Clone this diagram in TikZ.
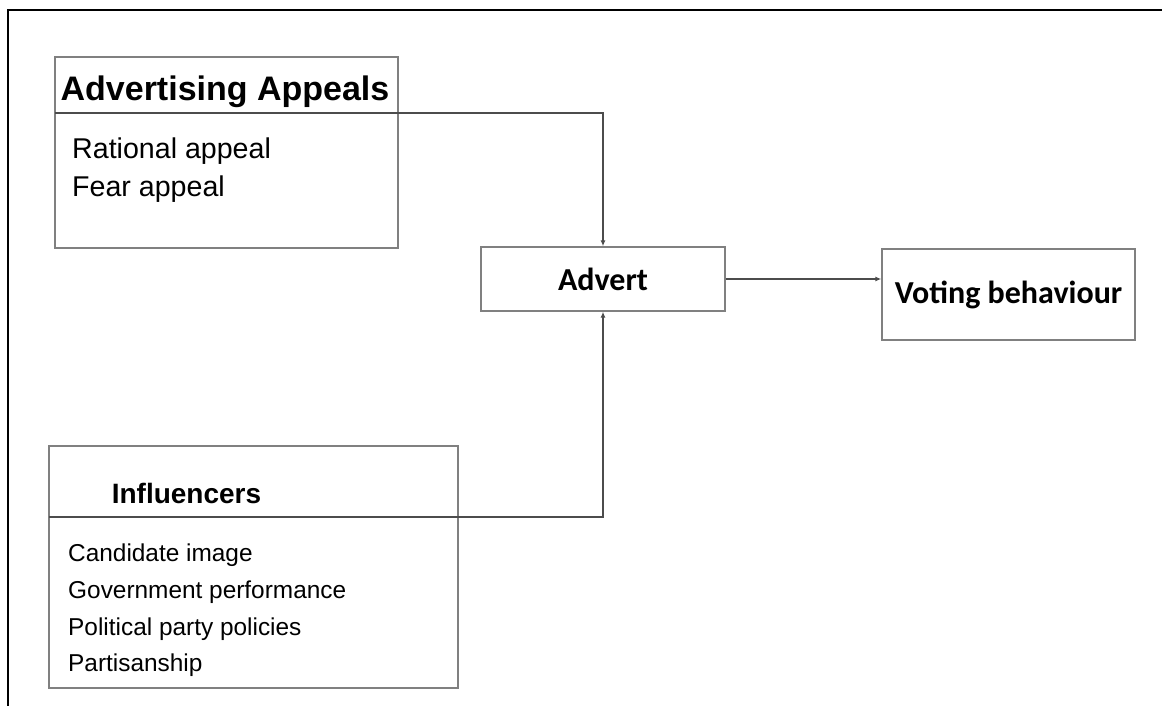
\documentclass[tikz,border=0pt]{standalone}
\usepackage{fontspec}
\setmainfont{Liberation Sans}
\newfontfamily\carlito{Carlito}
\usetikzlibrary{positioning, arrows.meta}

\begin{document}
\begin{tikzpicture}[x=1pt, y=-1pt, >={Latex[length=6pt, width=5pt]},
        box/.style={draw=black!50, line width=1.4pt, rectangle, inner sep=0pt},
        mainbox/.style={box, font=\carlito\bfseries\fontsize{32}{38}\selectfont},
        titel/.style={anchor=base, inner sep=0pt, font=\bfseries},
        liste/.style={anchor=north west, inner sep=0pt, align=left},
        verb/.style={draw=black!70, line width=1.2pt}]
    \useasboundingbox (0,0) rectangle (1162,706);
    % Rahmen
    \draw[line width=2.2pt] (8,706) -- (8,10) -- (1162,10);

    % Kästen
    \node[box, minimum width=343pt, minimum height=191pt] (appeals) at (226.5,152.5) {};
    \node[titel, font=\bfseries\fontsize{34}{40}\selectfont] (appealstitle) at (225,101) {Advertising Appeals};
    \node[liste, font=\fontsize{28.6}{38}\selectfont] (appealsitems) at (72,138)
        {Rational appeal\\Fear appeal};

    \node[box, minimum width=409pt, minimum height=242pt] (infl) at (253.5,567) {};
    \node[titel, font=\bfseries\fontsize{28}{34}\selectfont] (infltitle) at (186.5,503) {Influencers};
    \node[liste, font=\fontsize{24.4}{36.7}\selectfont] (inflitems) at (68,544)
        {Candidate image\\Government performance\\Political party policies\\Partisanship};

    \node[mainbox, minimum width=244pt, minimum height=64pt] (advert) at (603,279) {Advert};
    \node[mainbox, minimum width=253pt, minimum height=91pt] (voting) at (1008.5,294.5) {Voting behaviour};

    % Verbindungen
    \coordinate (appealssplit) at (55,113);
    \coordinate (inflsplit) at (49,517);
    \draw[verb, ->] (appealssplit) -| (advert.north);
    \draw[verb, ->] (inflsplit) -| (advert.south);
    \draw[verb, ->] (advert.east) -- (advert.east -| voting.west);
\end{tikzpicture}
\end{document}
